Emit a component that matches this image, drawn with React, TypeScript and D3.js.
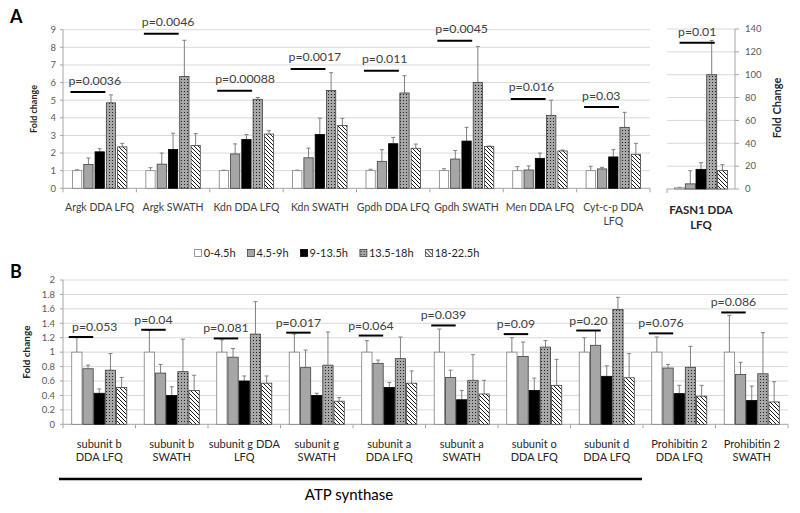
import React, { useEffect, useRef } from "react";
import * as d3 from "d3";

// ---------- DATA ----------
const series = ["0-4.5h", "4.5-9h", "9-13.5h", "13.5-18h", "18-22.5h"];

const catsA = [
  "Argk DDA LFQ", "Argk SWATH", "Kdn DDA LFQ", "Kdn SWATH",
  "Gpdh DDA LFQ", "Gpdh SWATH", "Men DDA LFQ", "Cyt-c-p DDA\nLFQ",
];
const meansA = [
  [1.0, 1.35, 2.07, 4.85, 2.35],
  [1.0, 1.37, 2.2, 6.35, 2.43],
  [1.0, 1.95, 2.77, 5.05, 3.08],
  [1.0, 1.73, 3.05, 5.55, 3.57],
  [1.0, 1.53, 2.53, 5.41, 2.27],
  [1.0, 1.66, 2.68, 6.01, 2.38],
  [1.0, 1.04, 1.7, 4.14, 2.12],
  [1.0, 1.1, 1.78, 3.46, 1.93],
];
const errA = [
  [0.05, 0.37, 0.18, 0.45, 0.2],
  [0.17, 0.63, 0.93, 2.05, 0.67],
  [0.03, 0.57, 0.28, 0.1, 0.19],
  [0.03, 0.55, 0.93, 1.01, 0.4],
  [0.08, 0.66, 0.36, 0.98, 0.24],
  [0.11, 0.49, 0.78, 2.04, 0.02],
  [0.23, 0.23, 0.3, 0.86, 0.05],
  [0.25, 0.09, 0.41, 0.85, 0.62],
];
const pTextA = ["p=0.0036", "p=0.0046", "p=0.00088", "p=0.0017", "p=0.011", "p=0.0045", "p=0.016", "p=0.03"];
const pLineA = [5.46, 8.77, 5.54, 6.77, 6.67, 8.38, 5.07, 4.61];
const yTicksA = [0, 1, 2, 3, 4, 5, 6, 7, 8, 9];

const catsF = ["FASN1 DDA\nLFQ"];
const meansF = [[1.0, 4.5, 17.2, 100, 16.3]];
const errF = [[0.5, 11.5, 5.8, 30, 5.0]];
const pTextF = ["p=0.01"];
const pLineF = [128];
const yTicksF = [0, 20, 40, 60, 80, 100, 120, 140];

const catsB = [
  "subunit b\nDDA LFQ", "subunit b\nSWATH", "subunit g DDA\nLFQ", "subunit g\nSWATH",
  "subunit a\nDDA LFQ", "subunit a\nSWATH", "subunit o\nDDA LFQ", "subunit d\nDDA LFQ",
  "Prohibitin 2\nDDA LFQ", "Prohibitin 2\nSWATH",
];
const meansB = [
  [1.0, 0.77, 0.43, 0.75, 0.51],
  [1.0, 0.71, 0.4, 0.73, 0.47],
  [1.0, 0.93, 0.6, 1.25, 0.57],
  [1.0, 0.785, 0.4, 0.82, 0.32],
  [1.0, 0.845, 0.51, 0.91, 0.57],
  [1.0, 0.65, 0.34, 0.61, 0.42],
  [1.0, 0.94, 0.47, 1.07, 0.54],
  [1.0, 1.095, 0.665, 1.59, 0.645],
  [1.0, 0.78, 0.425, 0.79, 0.39],
  [1.0, 0.69, 0.33, 0.7, 0.31],
];
const errB = [
  [0.2, 0.05, 0.06, 0.23, 0.14],
  [0.3, 0.12, 0.12, 0.45, 0.21],
  [0.17, 0.12, 0.07, 0.45, 0.1],
  [0.25, 0.245, 0.03, 0.46, 0.05],
  [0.16, 0.045, 0.07, 0.3, 0.17],
  [0.32, 0.1, 0.13, 0.355, 0.19],
  [0.2, 0.2, 0.17, 0.09, 0.36],
  [0.2, 0.205, 0.145, 0.17, 0.335],
  [0.21, 0.05, 0.115, 0.29, 0.15],
  [0.51, 0.17, 0.2, 0.57, 0.28],
];
const pTextB = ["p=0.053", "p=0.04", "p=0.081", "p=0.017", "p=0.064", "p=0.039", "p=0.09", "p=0.20", "p=0.076", "p=0.086"];
const pLineB = [1.21, 1.31, 1.19, 1.27, 1.23, 1.37, 1.25, 1.3, 1.26, 1.55];
const yTicksB = [0, 0.2, 0.4, 0.6, 0.8, 1, 1.2, 1.4, 1.6, 1.8, 2];

// ---------- STYLE ----------
const FONT = "Lato, 'Open Sans', sans-serif";
const fills = ["#ffffff", "#a6a6a6", "#000000", "url(#dots)", "url(#hatch)"];
const strokes = ["#7f7f7f", "#404040", "#000000", "#404040", "#404040"];
const GRID = "#d9d9d9";
const AXIS = "#a6a6a6";
const TICKTXT = "#595959";

type G = d3.Selection<SVGGElement, unknown, null, undefined>;

function drawBars(
  g: G,
  cats: string[],
  x0: d3.ScaleBand<string>,
  x1: d3.ScaleBand<string>,
  y: d3.ScaleLinear<number, number>,
  means: number[][],
  errs: number[][]
) {
  cats.forEach((c, ci) => {
    series.forEach((s, si) => {
      const v = means[ci][si];
      const e = errs[ci][si];
      const bx = (x0(c) as number) + (x1(s) as number);
      const bw = x1.bandwidth();
      const cx = bx + bw / 2;
      // error bar (upward only)
      g.append("line")
        .attr("x1", cx).attr("x2", cx)
        .attr("y1", y(v)).attr("y2", y(v + e))
        .attr("stroke", "#808080").attr("stroke-width", 1);
      g.append("line")
        .attr("x1", cx - 2).attr("x2", cx + 2)
        .attr("y1", y(v + e)).attr("y2", y(v + e))
        .attr("stroke", "#808080").attr("stroke-width", 1);
      g.append("rect")
        .attr("x", bx).attr("y", y(v))
        .attr("width", bw).attr("height", y(0) - y(v))
        .attr("fill", fills[si]).attr("stroke", strokes[si]).attr("stroke-width", 0.8);
    });
  });
}

function drawCatLabels(g: G, cats: string[], x0: d3.ScaleBand<string>, y0: number, size: number, color: string, weight = "normal", lineH = 13.5) {
  cats.forEach((c) => {
    const t = g.append("text")
      .attr("x", (x0(c) as number) + x0.bandwidth() / 2)
      .attr("y", y0)
      .attr("text-anchor", "middle")
      .attr("font-family", FONT).attr("font-size", size)
      .attr("font-weight", weight)
      .attr("fill", color);
    c.split("\n").forEach((ln, i) => {
      t.append("tspan").attr("x", (x0(c) as number) + x0.bandwidth() / 2).attr("dy", i === 0 ? 0 : lineH).text(ln);
    });
  });
}

export default function App() {
  const ref = useRef<SVGSVGElement>(null);
  useEffect(() => {
    const svg = d3.select(ref.current as SVGSVGElement);
    svg.selectAll("*").remove();
    const defs = svg.append("defs");
    const dots = defs.append("pattern").attr("id", "dots").attr("patternUnits", "userSpaceOnUse").attr("width", 3).attr("height", 3);
    dots.append("rect").attr("width", 3).attr("height", 3).attr("fill", "#a8a8a8");
    dots.append("rect").attr("x", 1).attr("y", 1).attr("width", 1).attr("height", 1).attr("fill", "#222");
    const hatch = defs.append("pattern").attr("id", "hatch").attr("patternUnits", "userSpaceOnUse").attr("width", 4).attr("height", 4);
    hatch.append("rect").attr("width", 4).attr("height", 4).attr("fill", "#fff");
    hatch.append("path").attr("d", "M-1,-1 L5,5 M3,-1 L5,1 M-1,3 L1,5").attr("stroke", "#000").attr("stroke-width", 0.9);

    svg.append("rect").attr("width", 800).attr("height", 513).attr("fill", "#fff");
    const root = svg.append("g") as unknown as G;

    // ================= PANEL A =================
    const xA = d3.scaleBand<string>().domain(catsA).range([63, 650]);
    const xA1 = d3.scaleBand<string>().domain(series).range([0, xA.bandwidth()]).paddingInner(0.177).paddingOuter(0.84);
    const yA = d3.scaleLinear().domain([0, 9]).range([188.3, 29.7]);

    yTicksA.forEach((t) => {
      if (t > 0) root.append("line").attr("x1", 63).attr("x2", 650).attr("y1", yA(t)).attr("y2", yA(t)).attr("stroke", GRID).attr("stroke-width", 1);
      root.append("line").attr("x1", 60).attr("x2", 63).attr("y1", yA(t)).attr("y2", yA(t)).attr("stroke", AXIS);
      root.append("text").attr("x", 56).attr("y", yA(t)).attr("dy", "0.35em").attr("text-anchor", "end")
        .attr("font-family", FONT).attr("font-size", 9.5).attr("fill", TICKTXT).text(String(t));
    });
    root.append("line").attr("x1", 63).attr("x2", 63).attr("y1", yA(0)).attr("y2", yA(9)).attr("stroke", AXIS);
    root.append("line").attr("x1", 63).attr("x2", 650).attr("y1", yA(0)).attr("y2", yA(0)).attr("stroke", AXIS);
    d3.range(catsA.length + 1).forEach((i) => {
      const x = i < catsA.length ? (xA(catsA[i]) as number) : 650;
      root.append("line").attr("x1", x).attr("x2", x).attr("y1", yA(0)).attr("y2", yA(0) + 4).attr("stroke", AXIS);
    });
    drawBars(root, catsA, xA, xA1, yA, meansA, errA);
    catsA.forEach((c, ci) => {
      const x0 = (xA(c) as number) + (xA1(series[0]) as number) - 2;
      const x1 = (xA(c) as number) + (xA1(series[2]) as number) + xA1.bandwidth() + 1;
      const yy = yA(pLineA[ci]);
      root.append("line").attr("x1", x0).attr("x2", x1).attr("y1", yy).attr("y2", yy).attr("stroke", "#000").attr("stroke-width", 2);
      root.append("text").attr("x", x0 - 2).attr("y", yy - 7.5).attr("font-family", FONT).attr("font-size", 12.3).attr("fill", "#404040").text(pTextA[ci]);
    });
    drawCatLabels(root, catsA, xA, 211, 10.5, "#404040");
    root.append("text").attr("transform", `translate(37,${(yA(0) + yA(9)) / 2}) rotate(-90)`).attr("text-anchor", "middle")
      .attr("font-family", FONT).attr("font-size", 9).attr("font-weight", "bold").attr("fill", "#262626").text("Fold change");
    root.append("text").attr("x", 10).attr("y", 23).attr("font-family", FONT).attr("font-size", 18).attr("font-weight", "bold").attr("fill", "#000").text("A");

    // ================= FASN1 =================
    const xF = d3.scaleBand<string>().domain(catsF).range([667, 735]);
    const xF1 = d3.scaleBand<string>().domain(series).range([0, xF.bandwidth()]).paddingInner(0.065).paddingOuter(0.71);
    const yF = d3.scaleLinear().domain([0, 140]).range([189, 29]);
    yTicksF.forEach((t) => {
      if (t > 0) root.append("line").attr("x1", 667).attr("x2", 735).attr("y1", yF(t)).attr("y2", yF(t)).attr("stroke", GRID);
      root.append("line").attr("x1", 735).attr("x2", 739).attr("y1", yF(t)).attr("y2", yF(t)).attr("stroke", AXIS);
      root.append("text").attr("x", 745).attr("y", yF(t)).attr("dy", "0.35em").attr("font-family", FONT).attr("font-size", 9.5).attr("fill", TICKTXT).text(String(t));
    });
    root.append("line").attr("x1", 735).attr("x2", 735).attr("y1", yF(0)).attr("y2", yF(140)).attr("stroke", AXIS);
    root.append("line").attr("x1", 667).attr("x2", 735).attr("y1", yF(0)).attr("y2", yF(0)).attr("stroke", AXIS);
    root.append("line").attr("x1", 667).attr("x2", 667).attr("y1", yF(0)).attr("y2", yF(0) + 4).attr("stroke", AXIS);
    drawBars(root, catsF, xF, xF1, yF, meansF, errF);
    catsF.forEach((c, ci) => {
      const x0 = (xF(c) as number) + (xF1(series[0]) as number) + xF1.bandwidth() / 2;
      const x1 = (xF(c) as number) + (xF1(series[3]) as number) + xF1.bandwidth() / 2 + 3;
      const yy = yF(pLineF[ci]);
      root.append("line").attr("x1", x0).attr("x2", x1).attr("y1", yy).attr("y2", yy).attr("stroke", "#000").attr("stroke-width", 2);
      root.append("text").attr("x", (x0 + x1) / 2).attr("y", yy - 6.6).attr("text-anchor", "middle").attr("font-family", FONT).attr("font-size", 12.3).attr("fill", "#404040").text(pTextF[ci]);
    });
    drawCatLabels(root, catsF, xF, 214, 11.5, "#262626", "bold", 15);
    root.append("text").attr("transform", `translate(781,108) rotate(-90)`).attr("text-anchor", "middle")
      .attr("font-family", FONT).attr("font-size", 11).attr("font-weight", "bold").attr("fill", "#262626").text("Fold Change");

    // ================= LEGEND =================
    const leg = root.append("g");
    let lx = 0;
    series.forEach((s, si) => {
      leg.append("rect").attr("x", lx).attr("y", -3.5).attr("width", 7).attr("height", 7).attr("fill", fills[si]).attr("stroke", strokes[si]).attr("stroke-width", 0.8);
      const t = leg.append("text").attr("x", lx + 9).attr("y", 0).attr("dy", "0.35em").attr("font-family", FONT).attr("font-size", 11).attr("fill", "#262626").text(s);
      const w = (t.node() as SVGTextElement).getComputedTextLength();
      lx += 9 + w + 12;
    });
    const legW = lx - 12;
    leg.attr("transform", `translate(${337 - legW / 2},253)`);

    // ================= PANEL B =================
    const xB = d3.scaleBand<string>().domain(catsB).range([63, 788]);
    const xB1 = d3.scaleBand<string>().domain(series).range([0, xB.bandwidth()]).paddingInner(0.08).paddingOuter(0.78);
    const yB = d3.scaleLinear().domain([0, 2]).range([424.3, 280]);
    yTicksB.forEach((t) => {
      if (t > 0) root.append("line").attr("x1", 63).attr("x2", 788).attr("y1", yB(t)).attr("y2", yB(t)).attr("stroke", GRID);
      root.append("line").attr("x1", 60).attr("x2", 63).attr("y1", yB(t)).attr("y2", yB(t)).attr("stroke", AXIS);
      root.append("text").attr("x", 55).attr("y", yB(t)).attr("dy", "0.35em").attr("text-anchor", "end")
        .attr("font-family", FONT).attr("font-size", 9.5).attr("fill", TICKTXT).text(d3.format("~g")(t));
    });
    root.append("line").attr("x1", 63).attr("x2", 63).attr("y1", yB(0)).attr("y2", yB(2)).attr("stroke", AXIS);
    root.append("line").attr("x1", 63).attr("x2", 788).attr("y1", yB(0)).attr("y2", yB(0)).attr("stroke", AXIS);
    d3.range(catsB.length + 1).forEach((i) => {
      const x = i < catsB.length ? (xB(catsB[i]) as number) : 788;
      root.append("line").attr("x1", x).attr("x2", x).attr("y1", yB(0)).attr("y2", yB(0) + 4).attr("stroke", AXIS);
    });
    drawBars(root, catsB, xB, xB1, yB, meansB, errB);
    catsB.forEach((c, ci) => {
      const x0 = (xB(c) as number) + (xB1(series[0]) as number) - 3;
      const x1 = (xB(c) as number) + (xB1(series[1]) as number) + xB1.bandwidth();
      const yy = yB(pLineB[ci]);
      root.append("line").attr("x1", x0).attr("x2", x1).attr("y1", yy).attr("y2", yy).attr("stroke", "#000").attr("stroke-width", 2);
      const t = root.append("text").attr("y", yy - 6).attr("font-family", FONT).attr("font-size", 12.3).attr("fill", "#404040").text(pTextB[ci]);
      const w = (t.node() as SVGTextElement).getComputedTextLength();
      const left = Math.max(72, (x0 + x1) / 2 - w / 2);
      t.attr("x", left);
    });
    drawCatLabels(root, catsB, xB, 448, 11, "#262626", "normal", 12.7);
    root.append("text").attr("transform", `translate(30,${(yB(0) + yB(2)) / 2}) rotate(-90)`).attr("text-anchor", "middle")
      .attr("font-family", FONT).attr("font-size", 10).attr("font-weight", "bold").attr("fill", "#262626").text("Fold change");
    root.append("text").attr("x", 10).attr("y", 278).attr("font-family", FONT).attr("font-size", 18).attr("font-weight", "bold").attr("fill", "#000").text("B");

    // ATP synthase bracket
    root.append("line").attr("x1", 59).attr("x2", 642).attr("y1", 479).attr("y2", 479).attr("stroke", "#000").attr("stroke-width", 2.5);
    root.append("text").attr("x", 349).attr("y", 500).attr("text-anchor", "middle").attr("font-family", FONT).attr("font-size", 15).attr("fill", "#000").text("ATP synthase");
  }, []);
  return (
    <svg ref={ref} width={800} height={513} style={{ position: "absolute", left: 0, top: 0, display: "block" }} />
  );
}
